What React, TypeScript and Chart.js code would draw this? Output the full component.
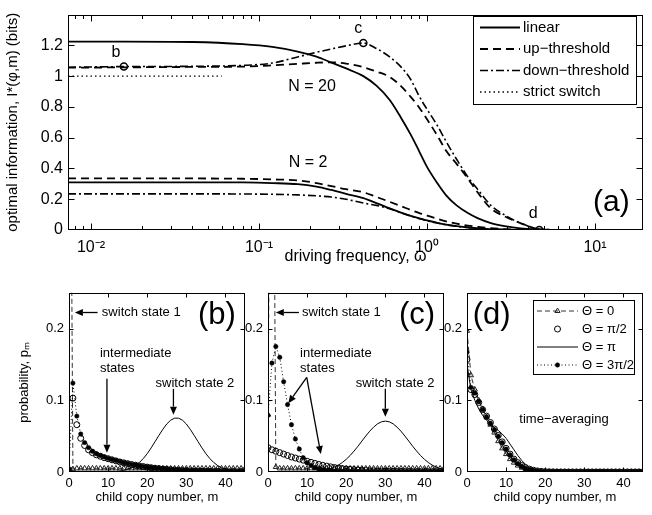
import React, { useEffect, useRef } from 'react';
import { Chart, registerables } from 'chart.js';

Chart.register(...registerables);

const FONT = "'Liberation Sans', Arial, Helvetica, sans-serif";

// ---------- Panel (a): optimal information vs driving frequency ----------
const omega = [0.0073, 0.0157, 0.04, 0.08, 0.12, 0.17, 0.22, 0.27, 0.33, 0.418, 0.5, 0.6, 0.7, 0.8, 0.9, 1.0, 1.15, 1.3, 1.5, 1.75, 2.0, 2.4, 2.9, 3.6, 4.66, 7, 19.3];
const linearN20 = [1.225, 1.225, 1.222, 1.208, 1.19, 1.16, 1.127, 1.088, 1.05, 1.0, 0.938, 0.845, 0.73, 0.62, 0.51, 0.41, 0.305, 0.225, 0.16, 0.11, 0.077, 0.045, 0.025, 0.01, 0.003, 0, 0];
const upN20 = [1.055, 1.057, 1.06, 1.062, 1.07, 1.08, 1.087, 1.09, 1.082, 1.058, 1.03, 0.995, 0.935, 0.865, 0.795, 0.72, 0.615, 0.515, 0.43, 0.335, 0.245, 0.14, 0.088, 0.045, 0.006, 0, 0];
const downN20 = [1.058, 1.062, 1.064, 1.07, 1.085, 1.125, 1.155, 1.177, 1.197, 1.215, 1.18, 1.125, 1.06, 0.978, 0.868, 0.785, 0.68, 0.575, 0.46, 0.345, 0.265, 0.16, 0.097, 0.045, 0.006, 0, 0];
const linearN2 = [0.31, 0.31, 0.31, 0.309, 0.305, 0.298, 0.282, 0.26, 0.235, 0.207, 0.175, 0.14, 0.113, 0.092, 0.076, 0.062, 0.047, 0.035, 0.025, 0.017, 0.011, 0.006, 0.003, 0.001, 0, 0, 0];
const upN2 = [0.335, 0.335, 0.335, 0.333, 0.329, 0.322, 0.305, 0.285, 0.265, 0.245, 0.215, 0.183, 0.155, 0.13, 0.11, 0.094, 0.073, 0.056, 0.041, 0.029, 0.021, 0.012, 0.006, 0.002, 0, 0, 0];
const downN2 = [0.235, 0.235, 0.235, 0.234, 0.232, 0.228, 0.222, 0.214, 0.2, 0.175, 0.16, 0.138, 0.113, 0.091, 0.074, 0.06, 0.045, 0.034, 0.024, 0.016, 0.01, 0.005, 0.0025, 0.001, 0, 0, 0];
const switchOmega = [0.0073, 0.06];
const switchInfo = [1.0, 1.0];
const markerOmega = [0.0157, 0.418, 4.66];
const markerInfo = [1.063, 1.215, 0];
const markerLabels = ['b', 'c', 'd'];
const xMajorTicks = [0.01, 0.1, 1, 10];
const xMajorLabels = ['10⁻²', '10⁻¹', '10⁰', '10¹'];
const yTicksA = [0, 0.2, 0.4, 0.6, 0.8, 1, 1.2];

// ---------- Panels (b), (c), (d): copy-number distributions ----------
const copyNumber = [0, 1, 2, 3, 4, 5, 6, 7, 8, 9, 10, 11, 12, 13, 14, 15, 16, 17, 18, 19, 20, 21, 22, 23, 24, 25, 26, 27, 28, 29, 30, 31, 32, 33, 34, 35, 36, 37, 38, 39, 40, 41, 42, 43, 44, 45];
const xTicksBottom = [0, 10, 20, 30, 40];
const yTicksBottom = [0, 0.1, 0.2];

const bTheta0 = [0.9, 0.004, 0.005, 0.005, 0.005, 0.005, 0.005, 0.005, 0.005, 0.005, 0.005, 0.005, 0.005, 0.005, 0.005, 0.005, 0.005, 0.005, 0.005, 0.005, 0.005, 0.005, 0.005, 0.005, 0.005, 0.005, 0.005, 0.005, 0.005, 0.005, 0.005, 0.005, 0.005, 0.005, 0.005, 0.005, 0.005, 0.005, 0.005, 0.005, 0.005, 0.005, 0.005, 0.005, 0.005, 0.005];
const bThetaHalfPi = [0.003, 0.103, 0.066, 0.047, 0.037, 0.031, 0.027, 0.024, 0.022, 0.02, 0.0185, 0.017, 0.0155, 0.014, 0.0128, 0.0116, 0.0105, 0.0095, 0.0085, 0.0076, 0.0068, 0.006, 0.0053, 0.0047, 0.0041, 0.0036, 0.0031, 0.0027, 0.0023, 0.002, 0.0017, 0.0015, 0.0013, 0.0011, 0.001, 0.0009, 0.0008, 0.0007, 0.0006, 0.0005, 0.0005, 0.0004, 0.0004, 0.0003, 0.0003, 0.0003];
const bThetaPi = [0, 0, 0, 0, 0, 0, 0, 0, 0, 0, 0.0002, 0.0004, 0.0007, 0.0013, 0.0023, 0.0038, 0.006, 0.009, 0.0133, 0.0188, 0.0256, 0.0336, 0.0423, 0.0511, 0.0596, 0.067, 0.0723, 0.0751, 0.0751, 0.0723, 0.067, 0.0596, 0.0511, 0.0423, 0.0336, 0.0256, 0.0188, 0.0133, 0.009, 0.006, 0.0038, 0.0023, 0.0013, 0.0007, 0.0004, 0.0002];
const bTheta3HalfPi = [0.004, 0.124, 0.078, 0.053, 0.041, 0.034, 0.029, 0.0255, 0.023, 0.021, 0.019, 0.0175, 0.016, 0.0145, 0.013, 0.0118, 0.0107, 0.0097, 0.0088, 0.0079, 0.0071, 0.0063, 0.0056, 0.005, 0.0044, 0.0039, 0.0034, 0.003, 0.0027, 0.0024, 0.0021, 0.0018, 0.0016, 0.0014, 0.0012, 0.0011, 0.001, 0.0009, 0.0008, 0.0007, 0.0006, 0.0006, 0.0005, 0.0005, 0.0004, 0.0004];

const cTheta0 = [0.08, 0.9, 0.007, 0.005, 0.005, 0.005, 0.005, 0.005, 0.005, 0.005, 0.005, 0.005, 0.005, 0.005, 0.005, 0.005, 0.005, 0.005, 0.005, 0.005, 0.005, 0.005, 0.005, 0.005, 0.005, 0.005, 0.005, 0.005, 0.005, 0.005, 0.005, 0.005, 0.005, 0.005, 0.005, 0.005, 0.005, 0.005, 0.005, 0.005, 0.005, 0.005, 0.005, 0.005, 0.005, 0.005];
const cThetaHalfPi = [0.034, 0.031, 0.029, 0.027, 0.025, 0.023, 0.021, 0.0195, 0.018, 0.0165, 0.015, 0.0135, 0.012, 0.0105, 0.0093, 0.0082, 0.0072, 0.0063, 0.0055, 0.0048, 0.0042, 0.0036, 0.0031, 0.0027, 0.0023, 0.002, 0.0017, 0.0015, 0.0013, 0.0011, 0.001, 0.0009, 0.0008, 0.0007, 0.0006, 0.0005, 0.0005, 0.0004, 0.0004, 0.0003, 0.0003, 0.0003, 0.0002, 0.0002, 0.0002, 0.0002];
const cThetaPi = [0, 0, 0, 0, 0, 0, 0, 0, 0, 0, 0.0002, 0.0004, 0.0007, 0.0011, 0.0019, 0.0031, 0.0047, 0.0068, 0.0096, 0.0132, 0.0177, 0.023, 0.0292, 0.0359, 0.0431, 0.0502, 0.0569, 0.0626, 0.0672, 0.07, 0.071, 0.07, 0.0672, 0.0626, 0.0569, 0.0502, 0.0431, 0.0359, 0.0292, 0.023, 0.0177, 0.0132, 0.0096, 0.0068, 0.0047, 0.0031];
const cTheta3HalfPi = [0.079, 0.152, 0.175, 0.16, 0.126, 0.094, 0.066, 0.046, 0.032, 0.02, 0.013, 0.009, 0.006, 0.004, 0.003, 0.002, 0.0015, 0.0011, 0.0008, 0.0006, 0.0005, 0.0004, 0.0003, 0.0003, 0.0002, 0.0002, 0.0002, 0.0001, 0.0001, 0.0001, 0.0001, 0.0001, 0.0001, 0.0001, 0.0001, 0.0001, 0.0001, 0.0001, 0.0001, 0.0001, 0.0001, 0.0001, 0.0001, 0.0001, 0.0001, 0.0001];

const dTheta0 = [0.197, 0.135, 0.115, 0.1, 0.088, 0.076, 0.066, 0.055, 0.043, 0.033, 0.025, 0.018, 0.013, 0.009, 0.006, 0.0038, 0.0024, 0.0015, 0.0009, 0.0005, 0.0003, 0.0002, 0.0001, 0.0001, 0.0001, 0.0001, 0.0001, 0.0001, 0.0001, 0.0001, 0.0001, 0.0001, 0.0001, 0.0001, 0.0001, 0.0001, 0.0001, 0.0001, 0.0001, 0.0001, 0.0001, 0.0001, 0.0001, 0.0001, 0.0001, 0.0001];
const dThetaHalfPi = [0.157, 0.115, 0.108, 0.097, 0.087, 0.078, 0.069, 0.06, 0.051, 0.042, 0.033, 0.025, 0.018, 0.013, 0.009, 0.006, 0.004, 0.0025, 0.0015, 0.0009, 0.0005, 0.0003, 0.0002, 0.0001, 0.0001, 0.0001, 0.0001, 0.0001, 0.0001, 0.0001, 0.0001, 0.0001, 0.0001, 0.0001, 0.0001, 0.0001, 0.0001, 0.0001, 0.0001, 0.0001, 0.0001, 0.0001, 0.0001, 0.0001, 0.0001, 0.0001];
const dThetaPi = [0.15, 0.115, 0.1, 0.088, 0.079, 0.072, 0.067, 0.062, 0.058, 0.053, 0.047, 0.039, 0.031, 0.023, 0.016, 0.0105, 0.0065, 0.0038, 0.0021, 0.0011, 0.0006, 0.0003, 0.0002, 0.0001, 0.0001, 0.0001, 0.0001, 0.0001, 0.0001, 0.0001, 0.0001, 0.0001, 0.0001, 0.0001, 0.0001, 0.0001, 0.0001, 0.0001, 0.0001, 0.0001, 0.0001, 0.0001, 0.0001, 0.0001, 0.0001, 0.0001];
const dTheta3HalfPi = [0.167, 0.118, 0.11, 0.098, 0.087, 0.077, 0.068, 0.059, 0.05, 0.041, 0.032, 0.024, 0.017, 0.012, 0.008, 0.005, 0.0032, 0.002, 0.0012, 0.0007, 0.0004, 0.0003, 0.0002, 0.0001, 0.0001, 0.0001, 0.0001, 0.0001, 0.0001, 0.0001, 0.0001, 0.0001, 0.0001, 0.0001, 0.0001, 0.0001, 0.0001, 0.0001, 0.0001, 0.0001, 0.0001, 0.0001, 0.0001, 0.0001, 0.0001, 0.0001];

// ---------- styles ----------
const A_SOLID = { dash: [], width: 1.8, color: '#000' };
const A_DASHED = { dash: [8, 5], width: 1.8, color: '#000' };
const A_DASHDOT = { dash: [8, 3, 2, 3], width: 1.6, color: '#000' };
const A_DOTTED = { dash: [1.5, 3], width: 1.4, color: '#000' };

const T0_LINE = { dash: [5, 3], width: 1, color: '#333' };
const T0_MARK = { style: 'triangle', r: 3, fill: 'rgba(0,0,0,0)', stroke: '#222', lw: 1 };
const HP_MARK = { style: 'circle', r: 3, fill: 'rgba(0,0,0,0)', stroke: '#000', lw: 1 };
const PI_LINE = { dash: [], width: 1, color: '#000' };
const THP_LINE = { dash: [1, 2.5], width: 1, color: '#000' };
const THP_MARK = { style: 'circle', r: 2.2, fill: '#000', stroke: '#000', lw: 0.5 };

const xy = (xs: number[], ys: number[]) => xs.map((x, i) => ({ x, y: ys[i] }));

function drawMarker(ctx: any, m: any, x: number, y: number) {
  ctx.save();
  ctx.setLineDash([]);
  ctx.lineWidth = m.lw;
  ctx.strokeStyle = m.stroke;
  ctx.fillStyle = m.fill;
  ctx.beginPath();
  if (m.style === 'triangle') {
    let rad = 0;
    ctx.moveTo(x + Math.sin(rad) * m.r, y - Math.cos(rad) * m.r);
    rad += (2 * Math.PI) / 3;
    ctx.lineTo(x + Math.sin(rad) * m.r, y - Math.cos(rad) * m.r);
    rad += (2 * Math.PI) / 3;
    ctx.lineTo(x + Math.sin(rad) * m.r, y - Math.cos(rad) * m.r);
    ctx.closePath();
  } else {
    ctx.arc(x, y, m.r, 0, Math.PI * 2);
  }
  ctx.fill();
  ctx.stroke();
  ctx.restore();
}

function drawArrow(ctx: any, x1: number, y1: number, x2: number, y2: number) {
  const ang = Math.atan2(y2 - y1, x2 - x1);
  const hl = 8, hw = 3.5;
  const bx = x2 - hl * Math.cos(ang), by = y2 - hl * Math.sin(ang);
  ctx.save();
  ctx.setLineDash([]);
  ctx.strokeStyle = '#000';
  ctx.fillStyle = '#000';
  ctx.lineWidth = 1.3;
  ctx.beginPath();
  ctx.moveTo(x1, y1);
  ctx.lineTo(bx, by);
  ctx.stroke();
  ctx.beginPath();
  ctx.moveTo(x2, y2);
  ctx.lineTo(bx + hw * Math.sin(ang), by - hw * Math.cos(ang));
  ctx.lineTo(bx - hw * Math.sin(ang), by + hw * Math.cos(ang));
  ctx.closePath();
  ctx.fill();
  ctx.restore();
}

function makeDecor(ex: any) {
  return {
    id: 'decor',
    afterDraw(chart: any) {
      const { ctx, chartArea: a } = chart;
      const xs = chart.scales.x, ys = chart.scales.y;
      ctx.save();
      const L = Math.round(a.left) + 0.5, R = Math.round(a.right) - 0.5;
      const T = Math.round(a.top) + 0.5, B = Math.round(a.bottom) - 0.5;
      ctx.strokeStyle = '#000';
      ctx.lineWidth = 1;
      ctx.setLineDash([]);
      ctx.beginPath();
      xs.ticks.forEach((t: any) => {
        const p = Math.round(xs.getPixelForValue(t.value)) + 0.5;
        if (p < L + 1 || p > R - 1) return;
        const len = t.minor ? ex.minorLen : ex.tickLen;
        ctx.moveTo(p, B); ctx.lineTo(p, B - len);
        ctx.moveTo(p, T); ctx.lineTo(p, T + len);
      });
      ys.ticks.forEach((t: any) => {
        const p = Math.round(ys.getPixelForValue(t.value)) + 0.5;
        if (p < T + 1 || p > B - 1) return;
        ctx.moveTo(L, p); ctx.lineTo(L + ex.tickLen, p);
        ctx.moveTo(R, p); ctx.lineTo(R - ex.tickLen, p);
      });
      ctx.stroke();
      ctx.strokeRect(L, T, R - L, B - T);
      (ex.arrows || []).forEach((ar: any) => {
        drawArrow(ctx, xs.getPixelForValue(ar.x1), ys.getPixelForValue(ar.y1), xs.getPixelForValue(ar.x2), ys.getPixelForValue(ar.y2));
      });
      (ex.texts || []).forEach((t: any) => {
        ctx.font = `${t.size}px ${FONT}`;
        ctx.fillStyle = '#000';
        ctx.textAlign = t.align || 'center';
        ctx.textBaseline = 'middle';
        ctx.fillText(t.text, xs.getPixelForValue(t.x) + (t.dx || 0), ys.getPixelForValue(t.y) + (t.dy || 0));
      });
      const lg = ex.legend;
      if (lg) {
        const bx = Math.round(a.right - lg.dx), by = Math.round(a.top + lg.dy);
        ctx.fillStyle = '#fff';
        ctx.fillRect(bx, by, lg.w, lg.h);
        ctx.strokeStyle = '#000';
        ctx.lineWidth = 1;
        ctx.strokeRect(bx + 0.5, by + 0.5, lg.w, lg.h);
        lg.items.forEach((it: any, i: number) => {
          const y = by + lg.rows[i];
          if (it.line) {
            ctx.save();
            ctx.strokeStyle = it.line.color;
            ctx.lineWidth = it.line.width;
            ctx.setLineDash(it.line.dash);
            ctx.beginPath();
            ctx.moveTo(bx + lg.x0, y);
            ctx.lineTo(bx + lg.x1, y);
            ctx.stroke();
            ctx.restore();
          }
          if (it.marker) drawMarker(ctx, it.marker, bx + (lg.x0 + lg.x1) / 2, y);
          ctx.font = `${lg.size}px ${FONT}`;
          ctx.fillStyle = '#000';
          ctx.textAlign = 'left';
          ctx.textBaseline = 'middle';
          ctx.fillText(it.label, bx + lg.tx, y);
        });
      }
      ctx.restore();
    },
  };
}

function lineSet(label: string, xs: number[], ys: number[], st: any) {
  return {
    label,
    data: xy(xs, ys),
    borderColor: st.color,
    borderWidth: st.width,
    borderDash: st.dash,
    pointRadius: 0,
    fill: false,
    cubicInterpolationMode: 'monotone',
  };
}

function configA() {
  const datasets = [
    {
      label: 'points',
      data: xy(markerOmega, markerInfo),
      showLine: false,
      pointStyle: 'circle',
      pointRadius: 3.5,
      pointBorderWidth: 1.5,
      pointBorderColor: '#000',
      pointBackgroundColor: 'rgba(0,0,0,0)',
    },
    lineSet('linear N=20', omega, linearN20, A_SOLID),
    lineSet('up-threshold N=20', omega, upN20, A_DASHED),
    lineSet('down-threshold N=20', omega, downN20, A_DASHDOT),
    lineSet('linear N=2', omega, linearN2, A_SOLID),
    lineSet('up-threshold N=2', omega, upN2, A_DASHED),
    lineSet('down-threshold N=2', omega, downN2, A_DASHDOT),
    lineSet('strict switch', switchOmega, switchInfo, A_DOTTED),
  ];
  const offsets = [[-8, -14], [-5, -14], [-6, -16.5]];
  const texts: any[] = markerLabels.map((t, i) => ({ text: t, x: markerOmega[i], y: markerInfo[i], dx: offsets[i][0], dy: offsets[i][1], size: 16 }));
  texts.push({ text: 'N = 20', x: 0.207, y: 0.93, size: 16 });
  texts.push({ text: 'N = 2', x: 0.196, y: 0.44, size: 16 });
  texts.push({ text: '(a)', x: 12.5, y: 0.18, size: 30 });
  return {
    type: 'line',
    data: { datasets },
    options: {
      responsive: false,
      animation: false,
      events: [],
      layout: { padding: { left: 0, top: 8, right: 9, bottom: 0 } },
      plugins: { legend: { display: false }, tooltip: { enabled: false } },
      scales: {
        x: {
          type: 'logarithmic',
          min: 0.0073,
          max: 19.3,
          grid: { display: false, drawTicks: false },
          border: { display: false },
          afterBuildTicks: (s: any) => {
            const out: any[] = [];
            [0.001, 0.01, 0.1, 1, 10].forEach((dec) => {
              for (let k = 1; k <= 9; k++) {
                const v = dec * k;
                if (v >= s.min && v <= s.max) out.push({ value: v, minor: k !== 1 });
              }
            });
            s.ticks = out;
          },
          ticks: {
            autoSkip: false,
            maxRotation: 0,
            padding: 8,
            color: '#000',
            font: { family: FONT, size: 16 },
            callback: (v: number) => {
              const i = xMajorTicks.findIndex((t) => Math.abs(t - v) / t < 1e-6);
              return i >= 0 ? xMajorLabels[i] : '';
            },
          },
          title: { display: true, text: 'driving frequency, ω', color: '#000', font: { family: FONT, size: 16 }, padding: { top: 0, bottom: 4 } },
          afterFit: (s: any) => { s.height = 40; },
        },
        y: {
          type: 'linear',
          min: 0,
          max: 1.4,
          grid: { display: false, drawTicks: false },
          border: { display: false },
          afterBuildTicks: (s: any) => { s.ticks = yTicksA.map((v) => ({ value: v })); },
          ticks: { autoSkip: false, padding: 5, color: '#000', font: { family: FONT, size: 16 }, callback: (v: number) => String(v) },
          title: { display: true, text: 'optimal information, I*(φ,m) (bits)', color: '#000', font: { family: FONT, size: 15 }, padding: { top: 4, bottom: 0 } },
          afterFit: (s: any) => { s.width = 68; },
        },
      },
    },
    plugins: [
      makeDecor({
        tickLen: 6,
        minorLen: 3.5,
        texts,
        legend: {
          dx: 170, dy: 1, w: 163, h: 88, x0: 7, x1: 47, tx: 50, size: 15,
          rows: [11.5, 33, 54.5, 76],
          items: [
            { label: 'linear', line: A_SOLID },
            { label: 'up−threshold', line: A_DASHED },
            { label: 'down−threshold', line: A_DASHDOT },
            { label: 'strict switch', line: A_DOTTED },
          ],
        },
      }),
    ],
  };
}

function distDatasets(t0: number[], hp: number[], pi: number[], thp: number[]) {
  return [
    {
      label: 'Θ = 3π/2',
      data: xy(copyNumber, thp),
      borderColor: THP_LINE.color,
      borderWidth: THP_LINE.width,
      borderDash: THP_LINE.dash,
      pointStyle: 'circle',
      pointRadius: THP_MARK.r,
      pointBackgroundColor: THP_MARK.fill,
      pointBorderColor: THP_MARK.stroke,
      pointBorderWidth: THP_MARK.lw,
    },
    {
      label: 'Θ = π/2',
      data: xy(copyNumber, hp),
      showLine: false,
      pointStyle: 'circle',
      pointRadius: HP_MARK.r,
      pointBackgroundColor: HP_MARK.fill,
      pointBorderColor: HP_MARK.stroke,
      pointBorderWidth: HP_MARK.lw,
    },
    {
      label: 'Θ = π',
      data: xy(copyNumber, pi),
      borderColor: PI_LINE.color,
      borderWidth: PI_LINE.width,
      pointRadius: 0,
    },
    {
      label: 'Θ = 0',
      data: xy(copyNumber, t0),
      borderColor: T0_LINE.color,
      borderWidth: T0_LINE.width,
      borderDash: T0_LINE.dash,
      pointStyle: 'triangle',
      pointRadius: T0_MARK.r,
      pointBackgroundColor: T0_MARK.fill,
      pointBorderColor: T0_MARK.stroke,
      pointBorderWidth: T0_MARK.lw,
    },
  ];
}

function configDist(o: any) {
  return {
    type: 'line',
    data: { datasets: o.datasets },
    options: {
      responsive: false,
      animation: false,
      events: [],
      layout: { padding: { left: 0, top: 10, right: o.padRight, bottom: 0 } },
      plugins: { legend: { display: false }, tooltip: { enabled: false } },
      scales: {
        x: {
          type: 'linear',
          min: 0,
          max: 45,
          grid: { display: false, drawTicks: false },
          border: { display: false },
          afterBuildTicks: (s: any) => { s.ticks = xTicksBottom.map((v) => ({ value: v })); },
          ticks: { autoSkip: false, maxRotation: 0, padding: 3.5, color: '#000', font: { family: FONT, size: 13 }, callback: (v: number) => String(v) },
          title: { display: true, text: 'child copy number, m', color: '#000', font: { family: FONT, size: 13 }, padding: { top: 0, bottom: 10 } },
          afterFit: (s: any) => { s.height = 43; },
        },
        y: {
          type: 'linear',
          min: 0,
          max: 0.25,
          grid: { display: false, drawTicks: false },
          border: { display: false },
          afterBuildTicks: (s: any) => { s.ticks = yTicksBottom.map((v) => ({ value: v })); },
          ticks: { autoSkip: false, padding: 5, color: '#000', font: { family: FONT, size: 13 }, callback: (v: number) => String(v) },
          title: { display: o.showYTitle, text: 'probability, pₘ', color: '#000', font: { family: FONT, size: 13 }, padding: { top: 17, bottom: 0 } },
          afterFit: (s: any) => { s.width = o.yWidth; },
        },
      },
    },
    plugins: [makeDecor({ tickLen: 4, minorLen: 4, texts: o.texts, arrows: o.arrows, legend: o.legend })],
  };
}

const configB = () =>
  configDist({
    datasets: distDatasets(bTheta0, bThetaHalfPi, bThetaPi, bTheta3HalfPi),
    padRight: 5,
    yWidth: 69,
    showYTitle: true,
    texts: [
      { text: 'switch state 1', x: 8.4, y: 0.2225, size: 13, align: 'left' },
      { text: 'intermediate', x: 7.9, y: 0.165, size: 13, align: 'left' },
      { text: 'states', x: 7.9, y: 0.145, size: 13, align: 'left' },
      { text: 'switch state 2', x: 32.2, y: 0.124, size: 13 },
      { text: '(b)', x: 37.8, y: 0.218, size: 31 },
    ],
    arrows: [
      { x1: 7.3, y1: 0.2225, x2: 1.5, y2: 0.2225 },
      { x1: 9.7, y1: 0.13, x2: 9.7, y2: 0.027 },
      { x1: 26.7, y1: 0.116, x2: 26.7, y2: 0.08 },
    ],
  });

const configC = () =>
  configDist({
    datasets: distDatasets(cTheta0, cThetaHalfPi, cThetaPi, cTheta3HalfPi),
    padRight: 6,
    yWidth: 44,
    showYTitle: false,
    texts: [
      { text: 'switch state 1', x: 8.7, y: 0.2225, size: 13, align: 'left' },
      { text: 'intermediate', x: 8.2, y: 0.165, size: 13, align: 'left' },
      { text: 'states', x: 8.2, y: 0.145, size: 13, align: 'left' },
      { text: 'switch state 2', x: 32.5, y: 0.124, size: 13 },
      { text: '(c)', x: 38.1, y: 0.218, size: 31 },
    ],
    arrows: [
      { x1: 7.9, y1: 0.2225, x2: 2.0, y2: 0.2225 },
      { x1: 9.9, y1: 0.132, x2: 5.2, y2: 0.096 },
      { x1: 9.9, y1: 0.132, x2: 13.5, y2: 0.025 },
      { x1: 30, y1: 0.116, x2: 30, y2: 0.077 },
    ],
  });

const configD = () =>
  configDist({
    datasets: distDatasets(dTheta0, dThetaHalfPi, dThetaPi, dTheta3HalfPi),
    padRight: 9,
    yWidth: 43,
    showYTitle: false,
    texts: [
      { text: '(d)', x: 6.3, y: 0.218, size: 31 },
      { text: 'time−averaging', x: 24.8, y: 0.074, size: 13 },
    ],
    legend: {
      dx: 110, dy: 7, w: 101, h: 74, x0: 4, x1: 45, tx: 49, size: 13,
      rows: [11, 29, 47, 65],
      items: [
        { label: 'Θ = 0', line: T0_LINE, marker: T0_MARK },
        { label: 'Θ = π/2', marker: HP_MARK },
        { label: 'Θ = π', line: PI_LINE },
        { label: 'Θ = 3π/2', line: THP_LINE, marker: THP_MARK },
      ],
    },
  });

export default function App() {
  const refA = useRef<HTMLCanvasElement>(null);
  const refB = useRef<HTMLCanvasElement>(null);
  const refC = useRef<HTMLCanvasElement>(null);
  const refD = useRef<HTMLCanvasElement>(null);

  useEffect(() => {
    const charts = [
      new Chart(refA.current as any, configA() as any),
      new Chart(refB.current as any, configB() as any),
      new Chart(refC.current as any, configC() as any),
      new Chart(refD.current as any, configD() as any),
    ];
    return () => charts.forEach((c) => c.destroy());
  }, []);

  const abs = (left: number, top: number, w: number, h: number): React.CSSProperties => ({ position: 'absolute', left, top, width: w, height: h });

  return (
    <div style={{ position: 'absolute', left: 0, top: 0, width: 652, height: 515, background: '#fff', overflow: 'hidden' }}>
      <canvas ref={refA} width={652} height={270} style={abs(0, 0, 652, 270)} />
      <canvas ref={refB} width={250} height={235} style={abs(0, 280, 250, 235)} />
      <canvas ref={refC} width={226} height={235} style={abs(224, 280, 226, 235)} />
      <canvas ref={refD} width={228} height={235} style={abs(424, 280, 228, 235)} />
    </div>
  );
}
